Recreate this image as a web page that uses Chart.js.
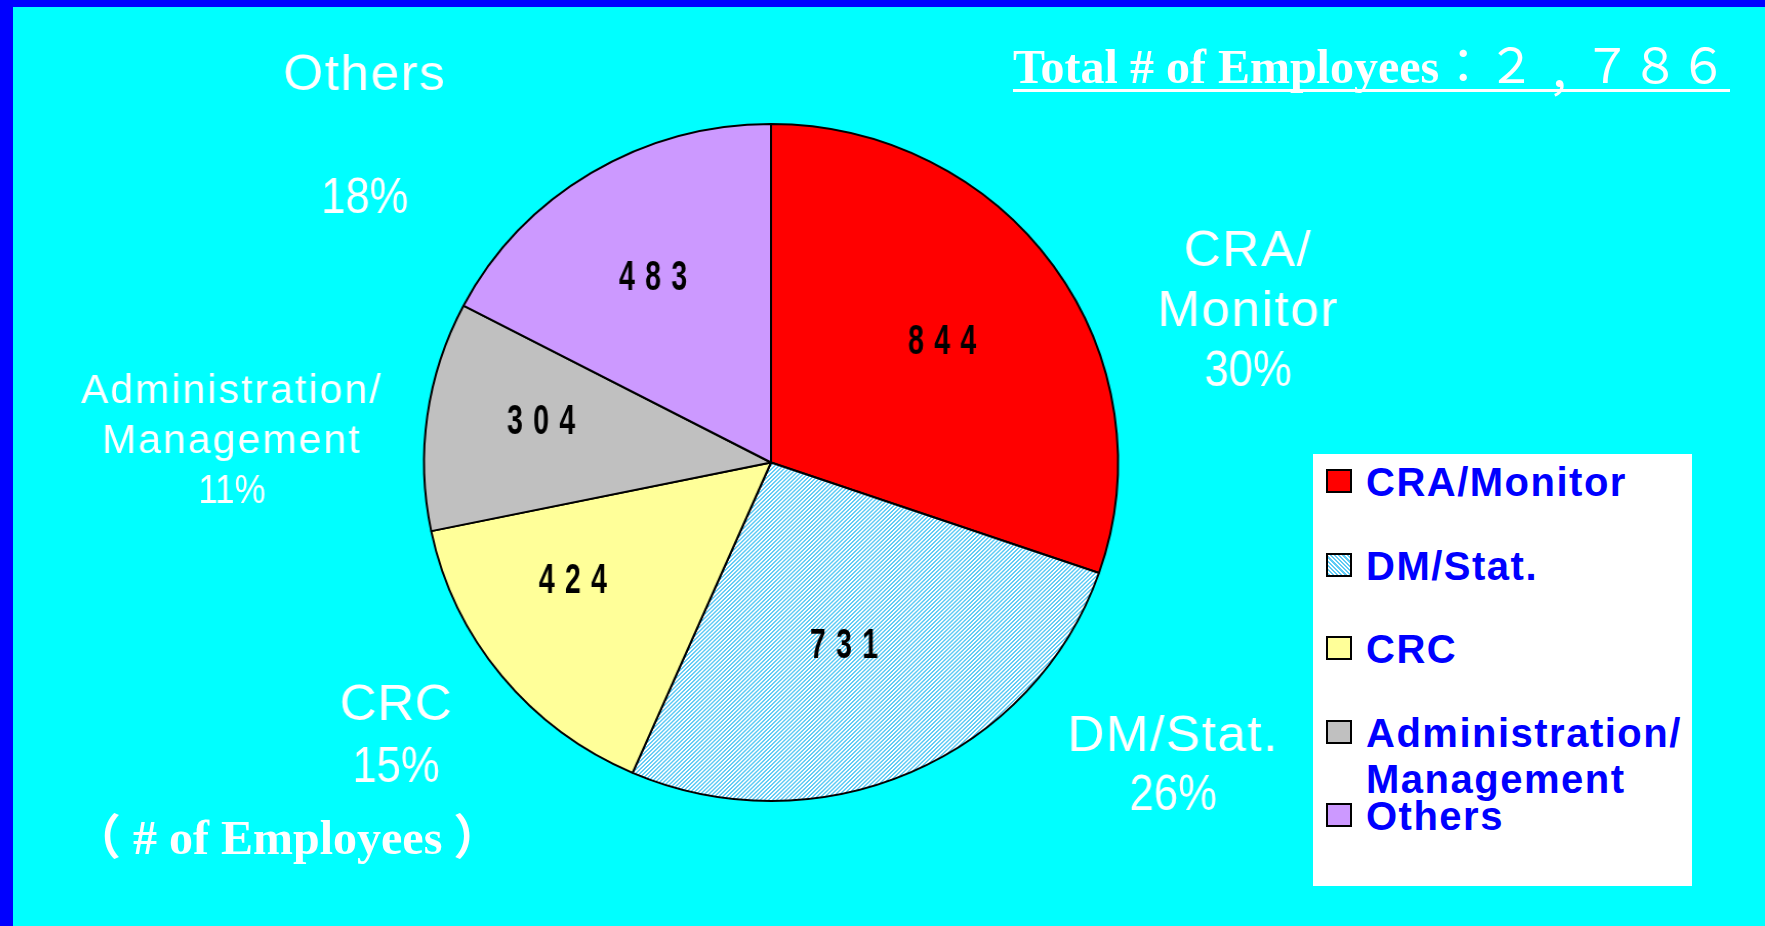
<!DOCTYPE html>
<html lang="en">
<head>
<meta charset="UTF-8">
<title>Total # of Employees</title>
<script src="https://cdn.jsdelivr.net/npm/chart.js@4.4.1/dist/chart.umd.min.js"></script>
<style>
  body {
    margin: 0;
    width: 1765px;
    height: 926px;
    overflow: hidden;
    position: relative;
    background: #00FFFF;
    font-family: 'Liberation Sans', Arial, sans-serif;
  }
  .edge-top { position: absolute; left: 0; top: 0; width: 1765px; height: 7px; background: #0000FF; }
  .edge-left { position: absolute; left: 0; top: 0; width: 13px; height: 926px; background: #0000FF; }
  /* the original pie is a touch wider than tall */
  #chart-wrap {
    position: absolute; left: 0; top: 0; width: 1765px; height: 926px;
    transform: scaleX(1.0251); transform-origin: 771px 0;
  }
  #total {
    position: absolute; left: 1013px; top: 38px;
    font: bold 48px 'Liberation Serif', 'Times New Roman', serif;
    line-height: 48px; color: #fff; white-space: nowrap;
  }
  #total .num { font-family: 'Noto Sans CJK TC', sans-serif; font-weight: normal; }
  #total .low { position: relative; top: 22px; }
  #total-rule { position: absolute; left: 1013px; top: 89px; width: 717px; height: 3px; background: #fff; }
  #unit {
    position: absolute; left: 73px; top: 814px;
    font: bold 48px 'Liberation Serif', 'Noto Sans CJK TC', serif;
    line-height: 48px; color: #fff; white-space: nowrap;
  }
  #unit .open { margin-right: 12px; }
  #unit .close { margin-left: 11px; }
  #legend { position: absolute; left: 1313px; top: 454px; width: 379px; height: 432px; background: #fff; }
  .lg-row { position: absolute; left: 13px; height: 84px; width: 360px; }
  .lg-box { position: absolute; left: 0; top: 10px; width: 22px; height: 20px; border: 2px solid #000; }
  .lg-text {
    position: absolute; left: 40px; top: 0;
    font: bold 40px 'Liberation Sans', Arial, sans-serif;
    color: #0000FF; letter-spacing: 1.5px; line-height: 46px; white-space: pre;
  }
</style>
</head>
<body>
  <div class="edge-top"></div>
  <div class="edge-left"></div>

  <div id="chart-wrap"><canvas id="pie"></canvas></div>

  <div id="total">Total # of Employees<span class="num"></span></div>
  <div id="total-rule"></div>
  <div id="unit"><span class="open">（</span># of Employees<span class="close">）</span></div>

  <div id="legend"></div>

<script>
  // chart data
  const categories = ['CRA/Monitor', 'DM/Stat.', 'CRC', 'Administration/Management', 'Others'];
  const employees = [844, 731, 424, 304, 483];
  const percentLabels = ['30%', '26%', '15%', '11%', '18%'];
  const outerCaptions = [['CRA/', 'Monitor'], ['DM/Stat.'], ['CRC'], ['Administration/', 'Management'], ['Others', '']];
  const totalText = '：２，７８６';

  // total line: the full-width comma sits on the baseline in the original
  const numEl = document.querySelector('#total .num');
  totalText.split('').forEach(ch => {
    const s = document.createElement('span');
    s.textContent = ch;
    if (ch === '，') s.className = 'low';
    numEl.appendChild(s);
  });

  // light blue hatch for the DM/Stat. slice
  function makeHatch() {
    const c = document.createElement('canvas');
    c.width = 4; c.height = 4;
    const g = c.getContext('2d');
    g.fillStyle = '#ffffff';
    g.fillRect(0, 0, 4, 4);
    g.fillStyle = '#5FCBF5';
    for (let i = 0; i < 4; i++) {
      g.fillRect(i, 3 - i, 1, 1);
      g.fillRect(i, (4 - i) % 4, 1, 1);
    }
    return g.createPattern(c, 'repeat');
  }

  const sliceFills = ['#FF0000', makeHatch(), '#FFFF99', '#C0C0C0', '#CC99FF'];
  const swatchCss = ['#FF0000',
    'repeating-linear-gradient(45deg, #5FCBF5 0 1.5px, #ffffff 1.5px 3px)',
    '#FFFF99', '#C0C0C0', '#CC99FF'];

  // legend
  const legendEl = document.getElementById('legend');
  categories.forEach((name, i) => {
    const row = document.createElement('div');
    row.className = 'lg-row';
    row.style.top = (5 + 83.5 * i) + 'px';
    const box = document.createElement('div');
    box.className = 'lg-box';
    box.style.background = swatchCss[i];
    const txt = document.createElement('div');
    txt.className = 'lg-text';
    txt.textContent = name.length > 15 ? name.replace('/', '/\n') : name;
    row.appendChild(box);
    row.appendChild(txt);
    legendEl.appendChild(row);
  });

  // counts inside the slices and captions outside
  const sliceText = {
    id: 'sliceText',
    afterDatasetsDraw(chart, args, opts) {
      const ctx = chart.ctx;
      const arcs = chart.getDatasetMeta(0).data;
      const deg = Math.PI / 180;
      arcs.forEach((arc, i) => {
        const p = arc.getProps(['x', 'y', 'startAngle', 'endAngle', 'outerRadius'], true);
        const mid = (p.startAngle + p.endAngle) / 2;

        // value, digits spread apart
        let a = mid + opts.innerTurn[i] * deg;
        const cx = p.x + Math.cos(a) * p.outerRadius * opts.innerReach[i];
        const cy = p.y + Math.sin(a) * p.outerRadius * opts.innerReach[i];
        ctx.save();
        ctx.fillStyle = '#000';
        ctx.font = 'bold 42px "Liberation Sans", Arial, sans-serif';
        ctx.textAlign = 'center';
        ctx.textBaseline = 'alphabetic';
        const digits = String(employees[i]).split('');
        digits.forEach((d, j) => {
          ctx.save();
          ctx.translate(cx + (j - (digits.length - 1) / 2) * 25.5, cy + 15);
          ctx.scale(0.66, 1);
          ctx.fillText(d, 0, 0);
          ctx.restore();
        });
        ctx.restore();

        // outside caption, percentage set narrower
        a = mid + opts.outerTurn[i] * deg;
        const ox = p.x + Math.cos(a) * p.outerRadius * opts.outerReach[i];
        const oy = p.y + Math.sin(a) * p.outerRadius * opts.outerReach[i];
        const lines = outerCaptions[i].concat(percentLabels[i]);
        const size = opts.outerSize[i];
        const lead = opts.outerLead[i];
        ctx.save();
        ctx.fillStyle = '#ffffff';
        ctx.font = size + 'px "Liberation Sans", Arial, sans-serif';
        ctx.textAlign = 'center';
        ctx.textBaseline = 'alphabetic';
        const first = oy - (lines.length - 1) * lead / 2 + size * 0.716 / 2;
        lines.forEach((ln, j) => {
          const ly = first + j * lead;
          if (j === lines.length - 1) {
            ctx.save();
            ctx.letterSpacing = '0px';
            ctx.translate(ox, ly);
            ctx.scale(0.85, 1);
            ctx.fillText(ln, 0, 0);
            ctx.restore();
          } else {
            ctx.letterSpacing = opts.outerSpacing[i] + 'px';
            ctx.fillText(ln, ox, ly);
          }
        });
        ctx.restore();
      });
    }
  };

  new Chart(document.getElementById('pie'), {
    type: 'pie',
    data: {
      labels: categories,
      datasets: [{
        data: employees,
        backgroundColor: sliceFills,
        borderColor: '#000000',
        borderWidth: 2
      }]
    },
    options: {
      responsive: true,
      maintainAspectRatio: false,
      animation: false,
      layout: { padding: { left: 431.5, right: 654.5, top: 123, bottom: 124 } },
      plugins: {
        legend: { display: false },
        tooltip: { enabled: false },
        sliceText: {
          innerReach: [0.613, 0.573, 0.665, 0.675, 0.650],
          innerTurn: [-1.0, 2.2, 8.2, 3.05, -0.35],
          outerReach: [1.449, 1.459, 1.344, 1.555, 1.521],
          outerTurn: [17.1, -28.9, 2.6, -5.35, -19.1],
          outerSize: [50, 50, 50, 40, 50],
          outerLead: [60, 59, 62, 50, 61.5],
          outerSpacing: [1.5, 1.5, 0.5, 2, 1.5]
        }
      }
    },
    plugins: [sliceText]
  });
</script>
</body>
</html>
